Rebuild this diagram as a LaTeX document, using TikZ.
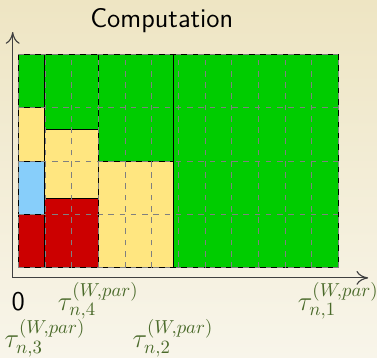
\documentclass[tikz,border=0pt]{standalone}
\usepackage{tikz}
\usetikzlibrary{arrows.meta,positioning,calc}
\definecolor{bgtop}{HTML}{EEE5C3}
\definecolor{bgbot}{HTML}{F8F5EA}
\definecolor{cgreen}{HTML}{00CC00}
\definecolor{cred}{HTML}{CC0000}
\definecolor{cyellow}{HTML}{FFE680}
\definecolor{cblue}{HTML}{87CEFA}
\definecolor{olive}{HTML}{4A6A2A}
\tikzset{
  block/.style={draw=black,line width=0.5pt},
  gridline/.style={draw=gray,dashed,line width=0.45pt},
  axis/.style={-{To[length=2.2mm,width=2.6mm]},line width=0.6pt,black!75},
  tlabel/.style={font=\Large,text=olive,inner sep=1pt},
  title/.style={font=\Large\sffamily}
}
\begin{document}
\begin{tikzpicture}
    \fill[top color=bgtop,bottom color=bgbot] (-0.343,-1.675) rectangle (6.725,5.02);
    \useasboundingbox (-0.343,-1.675) rectangle (6.725,5.02);
    % first core
    \draw[block,fill=cred] (0,0) rectangle (0.5,1);
    \draw[block,fill=cblue] (0,1) rectangle (0.5,2);
    \draw[block,fill=cyellow] (0,2) rectangle (0.5,3);
    \draw[block,fill=cgreen] (0,3) rectangle (0.5,4);
    % second core
    \draw[block,fill=cred] (0.5,0) rectangle (1.5,1.3);
    \draw[block,fill=cyellow] (0.5,1.3) rectangle (1.5,2.6);
    \draw[block,fill=cgreen] (0.5,2.6) rectangle (1.5,4);
    % third and fourth
    \draw[block,fill=cyellow] (1.5,0) rectangle (2.9,2);
    \draw[block,fill=cgreen] (1.5,2) rectangle (2.9,4);
    \draw[block,fill=cgreen] (2.9,0) rectangle (6,4);
    \draw[gridline] (0,0) grid[xstep=0.5,ystep=1] (6,4);
    % axes
    \coordinate (o) at (-0.105,-0.19);
    \coordinate (xe) at (6.56,-0.19);
    \coordinate (ye) at (-0.105,4.42);
    \draw[axis] (o) -- (xe);
    \draw[axis] (o) -- (ye);
    \node[title] (ttl) at (2.69,4.64) {Computation};
    \node[font=\Large\sffamily] (zero) at (0,-0.64) {0};
    \node[tlabel] (t4) at (1.5,-0.62) {$\tau_{n,4}^{(W,par)}$};
    \node[tlabel] (t1) at (6,-0.62) {$\tau_{n,1}^{(W,par)}$};
    \node[tlabel] (t3) at (0.5,-1.32) {$\tau_{n,3}^{(W,par)}$};
    \node[tlabel] (t2) at (2.9,-1.32) {$\tau_{n,2}^{(W,par)}$};
\end{tikzpicture}
\end{document}
